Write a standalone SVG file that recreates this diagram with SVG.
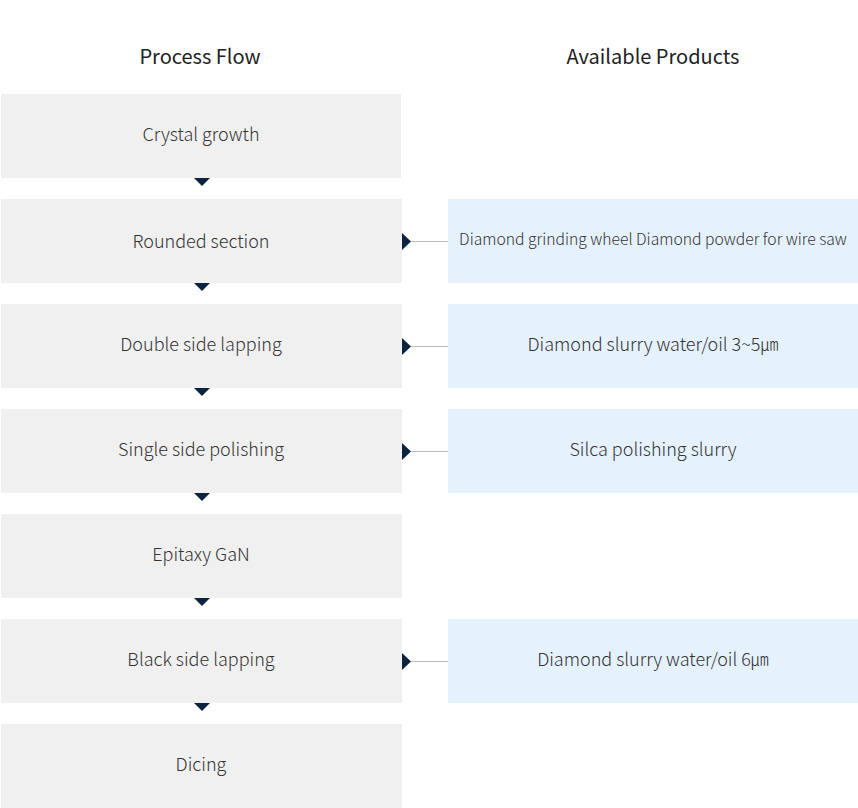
<svg xmlns="http://www.w3.org/2000/svg" width="858" height="808" viewBox="0 0 858 808">
<style>
text{font-family:"Noto Sans CJK KR","Source Sans Pro","Noto Sans",sans-serif;fill:#333;text-anchor:middle;dominant-baseline:central}
.title{font-size:20px;font-weight:400;fill:#222}
.step rect{fill:#f0f0f0}
.prod rect{fill:#e5f1fd}
.step text,.prod text{font-size:18px;font-weight:300}
.prod text.small{font-size:15.7px}
.line{stroke:#bbb;stroke-width:1}
.tri{fill:#0c2340}
</style>
<rect width="858" height="808" fill="#fff"/>
<text class="title" x="200" y="55">Process Flow</text>
<text class="title" x="653" y="55">Available Products</text>
<g id="step1" class="step"><rect x="1" y="94" width="400" height="84"/><text x="201" y="133">Crystal growth</text></g>
<g id="step2" class="step"><rect x="1" y="199" width="401" height="84"/><text x="201" y="240">Rounded section</text></g>
<g id="step3" class="step"><rect x="1" y="304" width="401" height="84"/><text x="201" y="343">Double side lapping</text></g>
<g id="step4" class="step"><rect x="1" y="409" width="401" height="84"/><text x="201" y="448">Single side polishing</text></g>
<g id="step5" class="step"><rect x="1" y="514" width="401" height="84"/><text x="201" y="553">Epitaxy GaN</text></g>
<g id="step6" class="step"><rect x="1" y="619" width="401" height="84"/><text x="201" y="658">Black side lapping</text></g>
<g id="step7" class="step"><rect x="1" y="724" width="401" height="84"/><text x="201" y="763">Dicing</text></g>
<g id="prod1" class="prod"><rect x="448" y="199" width="410" height="84"/><text class="small" x="653" y="238">Diamond grinding wheel Diamond powder for wire saw</text></g>
<g id="prod2" class="prod"><rect x="448" y="304" width="410" height="84"/><text x="653" y="343">Diamond slurry water/oil 3~5㎛</text></g>
<g id="prod3" class="prod"><rect x="448" y="409" width="410" height="84"/><text x="653" y="448">Silca polishing slurry</text></g>
<g id="prod4" class="prod"><rect x="448" y="619" width="410" height="84"/><text x="653" y="658">Diamond slurry water/oil 6㎛</text></g>
<g id="connectors">
<path class="tri" d="M194 178H210L202 186Z"/>
<path class="tri" d="M194 283H210L202 291Z"/>
<path class="tri" d="M194 388H210L202 396Z"/>
<path class="tri" d="M194 493H210L202 501Z"/>
<path class="tri" d="M194 598H210L202 606Z"/>
<path class="tri" d="M194 703H210L202 711Z"/>
<line class="line" x1="411" y1="241.5" x2="448" y2="241.5"/>
<line class="line" x1="411" y1="346.5" x2="448" y2="346.5"/>
<line class="line" x1="411" y1="451.5" x2="448" y2="451.5"/>
<line class="line" x1="411" y1="661.5" x2="448" y2="661.5"/>
<path class="tri" d="M402 233L411 241.5L402 250Z"/>
<path class="tri" d="M402 338L411 346.5L402 355Z"/>
<path class="tri" d="M402 443L411 451.5L402 460Z"/>
<path class="tri" d="M402 653L411 661.5L402 670Z"/>
</g>
</svg>
